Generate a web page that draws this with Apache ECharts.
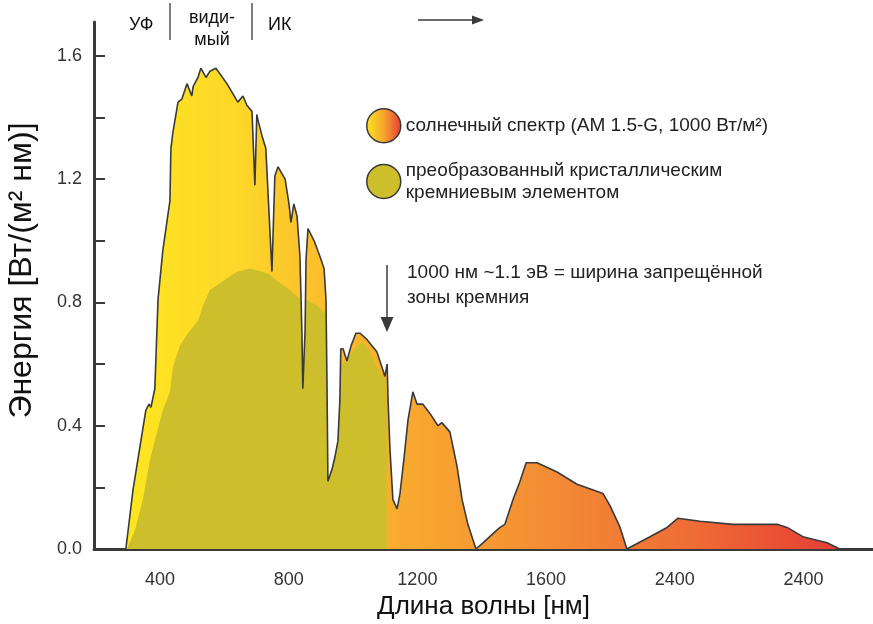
<!DOCTYPE html>
<html>
<head>
<meta charset="utf-8">
<script src="https://cdn.jsdelivr.net/npm/echarts@6/dist/echarts.min.js"></script>
<style>
html, body { margin: 0; padding: 0; background: #fff; }
#chart { width: 873px; height: 624px; }
</style>
</head>
<body>
<div id="chart"></div>
<script>
// солнечный спектр AM 1.5-G (нм, Вт/(м2 нм))
var solarNm = [294, 316, 356, 366, 372, 378, 384, 394, 409, 431, 434, 440, 456, 468, 484, 499, 503, 518, 527, 543,
    555, 574, 608, 642, 658, 670, 686, 695, 701, 705, 720, 729, 748, 757, 767, 789, 801, 807, 816, 826,
    835, 841, 844, 851, 854, 860, 879, 897, 910, 916, 919, 922, 935, 944, 953, 959, 962, 969, 981, 994,
    1009, 1022, 1043, 1074, 1093, 1099, 1106, 1109, 1115, 1124, 1137, 1146, 1158, 1171, 1186, 1199, 1217, 1239, 1264, 1276,
    1301, 1323, 1339, 1357, 1382, 1404, 1435, 1457, 1472, 1497, 1519, 1538, 1572, 1634, 1696, 1777, 1799, 1830, 1851, 1923,
    1976, 2010, 2078, 2181, 2318, 2349, 2398, 2473, 2513];
var solarVal = [0, 0.19, 0.45, 0.47, 0.46, 0.46, 0.52, 0.81, 0.97, 1.13, 1.30, 1.35, 1.45, 1.46, 1.51, 1.47, 1.50, 1.53, 1.56, 1.53,
    1.55, 1.56, 1.51, 1.45, 1.47, 1.44, 1.42, 1.18, 1.41, 1.39, 1.33, 1.30, 0.90, 1.21, 1.24, 1.20, 1.12, 1.06, 1.12, 1.08,
    0.95, 0.71, 0.52, 0.71, 0.94, 1.04, 1.00, 0.95, 0.91, 0.81, 0.55, 0.22, 0.26, 0.30, 0.35, 0.48, 0.65, 0.65, 0.61, 0.66,
    0.70, 0.70, 0.68, 0.64, 0.58, 0.56, 0.60, 0.48, 0.32, 0.16, 0.13, 0.18, 0.29, 0.42, 0.51, 0.47, 0.47, 0.44, 0.40, 0.41,
    0.38, 0.27, 0.16, 0.08, 0, 0.02, 0.05, 0.07, 0.08, 0.16, 0.22, 0.28, 0.28, 0.25, 0.21, 0.18, 0.14, 0.07, 0, 0.04,
    0.07, 0.10, 0.09, 0.08, 0.08, 0.07, 0.04, 0.02, 0];

// часть, преобразованная кристаллическим кремнием
var siNm = [297, 322, 347, 369, 391, 409, 431, 440, 462, 487, 518, 534, 555, 596, 639, 680, 717, 742, 764, 804,
    835, 841, 844, 851, 854, 888, 910, 916, 919, 922, 935, 944, 953, 959, 962, 969, 991, 1013, 1031, 1053,
    1074, 1093, 1104, 1105];
var siVal = [0, 0.06, 0.16, 0.29, 0.38, 0.45, 0.51, 0.59, 0.66, 0.70, 0.74, 0.79, 0.84, 0.87, 0.90, 0.91, 0.90, 0.89, 0.87, 0.84,
    0.81, 0.71, 0.52, 0.71, 0.81, 0.79, 0.77, 0.76, 0.55, 0.22, 0.26, 0.30, 0.35, 0.48, 0.60, 0.60, 0.63, 0.66, 0.67, 0.64,
    0.59, 0.56, 0.55, 0];

// подписи осей (как на оригинале)
var xTickValues = [400, 800, 1200, 1600, 2000, 2400];
var xTickLabels = ['400', '800', '1200', '1600', '2400', '2400'];
var yLabelValues = [0, 0.4, 0.8, 1.2, 1.6];
var yTickValues = [0.2, 0.4, 0.6, 0.8, 1.0, 1.2, 1.4, 1.6];

var solarName = 'солнечный спектр (AM 1.5-G, 1000 Вт/м²)';
var siName = 'преобразованный кристаллическим\nкремниевым элементом';

var FONT = 'Liberation Sans, Arial, sans-serif';
var INK = '#3a3a3a';

var zip = function (xs, ys) {
    return xs.map(function (x, i) { return [x, ys[i]]; });
};

var solarGradient = new echarts.graphic.LinearGradient(0, 0, 1, 0, [
    {offset: 0, color: '#fde61f'},
    {offset: 0.17, color: '#fdd52a'},
    {offset: 0.25, color: '#fcc22c'},
    {offset: 0.4, color: '#f8a82f'},
    {offset: 0.6, color: '#f38b35'},
    {offset: 0.8, color: '#ee6b35'},
    {offset: 1, color: '#e63c35'}
]);
var legendGradient = new echarts.graphic.LinearGradient(0, 0, 1, 0, [
    {offset: 0, color: '#fde61f'},
    {offset: 0.5, color: '#f7a52f'},
    {offset: 1, color: '#e63c35'}
]);
var siColor = '#cdbf2b';

var chart = echarts.init(document.getElementById('chart'));

var option = {
    backgroundColor: '#fff',
    animation: false,
    textStyle: {fontFamily: FONT},
    grid: {left: 94, right: 0, top: 22, bottom: 75, containLabel: false, outerBoundsMode: 'none'},
    xAxis: {
        type: 'value',
        min: 195,
        max: 2616,
        name: 'Длина волны [нм]',
        nameLocation: 'middle',
        nameGap: 45,
        nameTextStyle: {fontSize: 26, color: '#111', fontFamily: FONT},
        axisLine: {show: true, lineStyle: {color: INK, width: 3}},
        axisTick: {show: false},
        splitLine: {show: false},
        axisLabel: {
            customValues: xTickValues,
            formatter: function (v) {
                var i = xTickValues.indexOf(v);
                return i >= 0 ? xTickLabels[i] : '';
            },
            fontSize: 18,
            color: '#333',
            margin: 22,
            fontFamily: FONT
        }
    },
    yAxis: {
        type: 'value',
        min: 0,
        max: 1.71,
        name: 'Энергия [Вт/(м² нм)]',
        nameLocation: 'middle',
        nameGap: 56,
        nameTextStyle: {fontSize: 32, color: '#111', fontFamily: FONT, padding: [0, 0, 0, 30]},
        axisLine: {show: true, lineStyle: {color: INK, width: 3}},
        axisTick: {show: true, inside: true, length: 11, customValues: yTickValues, lineStyle: {color: INK, width: 2}},
        splitLine: {show: false},
        axisLabel: {
            customValues: yLabelValues,
            formatter: function (v) { return v.toFixed(1); },
            fontSize: 18,
            color: '#333',
            margin: 12,
            fontFamily: FONT
        }
    },
    legend: {
        orient: 'vertical',
        left: 366,
        top: 108,
        padding: 0,
        itemWidth: 34,
        itemHeight: 34,
        itemGap: 16,
        selectedMode: false,
        textStyle: {fontSize: 19, color: '#222', lineHeight: 22, fontFamily: FONT},
        data: [
            {name: solarName, icon: 'circle', itemStyle: {color: legendGradient, borderColor: INK, borderWidth: 1.5}},
            {name: siName, icon: 'circle', itemStyle: {color: siColor, borderColor: INK, borderWidth: 1.5}}
        ]
    },
    series: [
        {
            name: solarName,
            type: 'line',
            data: zip(solarNm, solarVal),
            showSymbol: false,
            symbol: 'none',
            lineStyle: {width: 0},
            areaStyle: {color: solarGradient, opacity: 1},
            z: 1
        },
        {
            name: siName,
            type: 'line',
            data: zip(siNm, siVal),
            showSymbol: false,
            symbol: 'none',
            lineStyle: {width: 0},
            areaStyle: {color: siColor, opacity: 1},
            z: 2
        },
        {
            name: 'контур',
            type: 'line',
            data: zip(solarNm, solarVal),
            showSymbol: false,
            symbol: 'none',
            lineStyle: {color: INK, width: 1.6},
            z: 3
        }
    ],
    graphic: [
        // УФ | видимый | ИК
        {type: 'text', left: 129, top: 16, style: {text: 'УФ', fontSize: 18, fill: '#111', fontFamily: FONT}},
        {type: 'line', shape: {x1: 170, y1: 3, x2: 170, y2: 40}, style: {stroke: '#555', lineWidth: 1.5}},
        {type: 'text', x: 212, y: 7, style: {text: 'види-\nмый', fontSize: 18, lineHeight: 22, align: 'center', fill: '#111', fontFamily: FONT}},
        {type: 'line', shape: {x1: 252, y1: 3, x2: 252, y2: 40}, style: {stroke: '#555', lineWidth: 1.5}},
        {type: 'text', left: 268, top: 16, style: {text: 'ИК', fontSize: 18, fill: '#111', fontFamily: FONT}},
        {type: 'line', shape: {x1: 418, y1: 20, x2: 474, y2: 20}, style: {stroke: INK, lineWidth: 1.5}},
        {type: 'polygon', shape: {points: [[484, 20], [472, 15.5], [472, 24.5]]}, style: {fill: INK}},
        // стрелка к ширине запрещённой зоны
        {type: 'line', shape: {x1: 387, y1: 265, x2: 387, y2: 322}, style: {stroke: INK, lineWidth: 1.5}},
        {type: 'polygon', shape: {points: [[387, 332], [380.5, 317], [393.5, 317]]}, style: {fill: INK}},
        {type: 'text', left: 407, top: 260, style: {text: '1000 нм ~1.1 эВ = ширина запрещённой\nзоны кремния', fontSize: 19, lineHeight: 25, fill: '#222', fontFamily: FONT}}
    ]
};

chart.setOption(option);
</script>
</body>
</html>
